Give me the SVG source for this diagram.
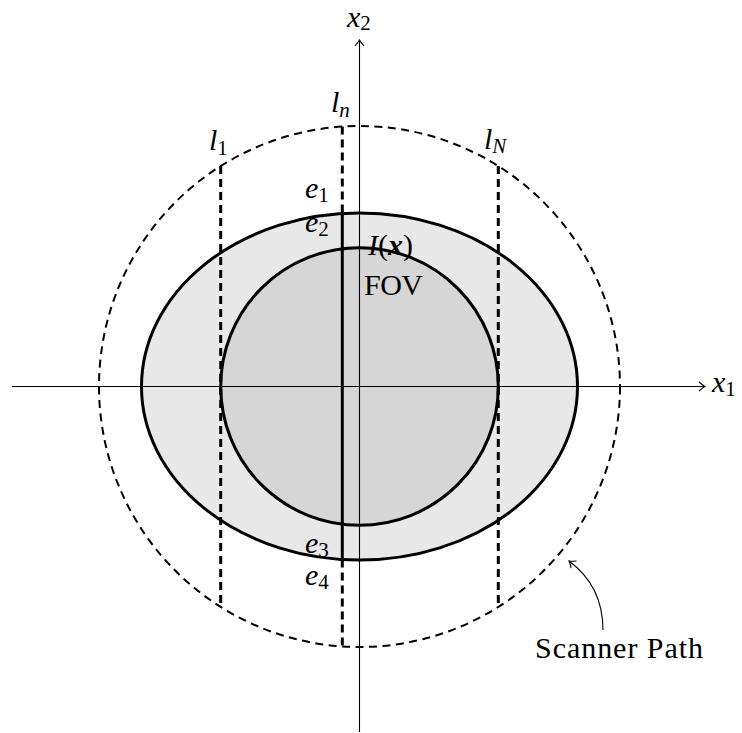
<svg xmlns="http://www.w3.org/2000/svg" width="742" height="733" viewBox="0 0 742 733">
  <style>
    .lbl { font-family: "Liberation Serif", "Times New Roman", serif; font-size: 30px; fill: #000; }
    .m { font-style: italic; }
    .sub { font-size: 21px; font-style: normal; }
    .subi { font-size: 21px; font-style: italic; }
    .thin { fill: none; stroke: #000; stroke-width: 1.1; }
    .solid { stroke: #000; stroke-width: 3; }
    .dash { fill: none; stroke: #000; stroke-width: 3; stroke-dasharray: 8 5; }
  </style>
  <defs>
    <marker id="tip" markerUnits="userSpaceOnUse" markerWidth="12" markerHeight="12" refX="0" refY="0" viewBox="-8 -6 10 12" orient="auto">
      <path d="M-6,-4.5 Q-2,-1 0,0 Q-2,1 -6,4.5" fill="none" stroke="#000" stroke-width="1.1"/>
    </marker>
  </defs>
  <rect width="742" height="733" fill="#fff"/>

  <g id="ellipse">
    <ellipse cx="359.5" cy="386.5" rx="218" ry="173.5" fill="#e8e8e8" class="solid"/>
  </g>
  <g id="fov">
    <circle cx="359.5" cy="386.5" r="138.8" fill="#d6d6d6" class="solid"/>
  </g>
  <g id="scanner-path">
    <circle cx="359.5" cy="386.5" r="260.5" fill="none" stroke="#000" stroke-width="2" stroke-dasharray="8 5.5"/>
  </g>

  <g id="lines">
    <line id="l1" x1="220.7" y1="166.1" x2="220.7" y2="606.9" class="dash"/>
    <line id="lN" x1="498.3" y1="166.1" x2="498.3" y2="606.9" class="dash"/>
    <g id="ln">
      <line x1="342.3" y1="126.6" x2="342.3" y2="213.5" class="dash"/>
      <line x1="342.3" y1="213.5" x2="342.3" y2="559.5" class="solid"/>
      <line x1="342.3" y1="559.5" x2="342.3" y2="646.4" class="dash"/>
    </g>
  </g>

  <g id="connectors">
    <line x1="12" y1="386.5" x2="705" y2="386.5" class="thin" marker-end="url(#tip)"/>
    <line x1="359.5" y1="732" x2="359.5" y2="40" class="thin" marker-end="url(#tip)"/>
    <path d="M603,630 C603,600 592,578 569,561" class="thin" marker-end="url(#tip)"/>
  </g>

  <g id="labels">
    <text class="lbl m" x="347" y="27">x<tspan class="sub" dy="3">2</tspan></text>
    <text class="lbl m" x="712" y="392">x<tspan class="sub" dy="4">1</tspan></text>
    <text class="lbl m" x="209" y="150">l<tspan class="sub" dy="5">1</tspan></text>
    <text class="lbl m" x="331" y="112">l<tspan class="subi" dy="5">n</tspan></text>
    <text class="lbl m" x="484" y="149">l<tspan class="subi" dy="4">N</tspan></text>
    <text class="lbl m" x="305" y="198">e<tspan class="sub" dy="4">1</tspan></text>
    <text class="lbl m" x="305" y="232">e<tspan class="sub" dy="4">2</tspan></text>
    <text class="lbl m" x="305" y="553">e<tspan class="sub" dy="4">3</tspan></text>
    <text class="lbl m" x="305" y="585">e<tspan class="sub" dy="4">4</tspan></text>
    <text class="lbl" x="368" y="255"><tspan class="m">I</tspan>(<tspan class="m" font-weight="bold">x</tspan>)</text>
    <text class="lbl" x="364" y="295" textLength="59">FOV</text>
    <text class="lbl" x="535" y="658" font-size="31" textLength="168">Scanner Path</text>
  </g>
</svg>
